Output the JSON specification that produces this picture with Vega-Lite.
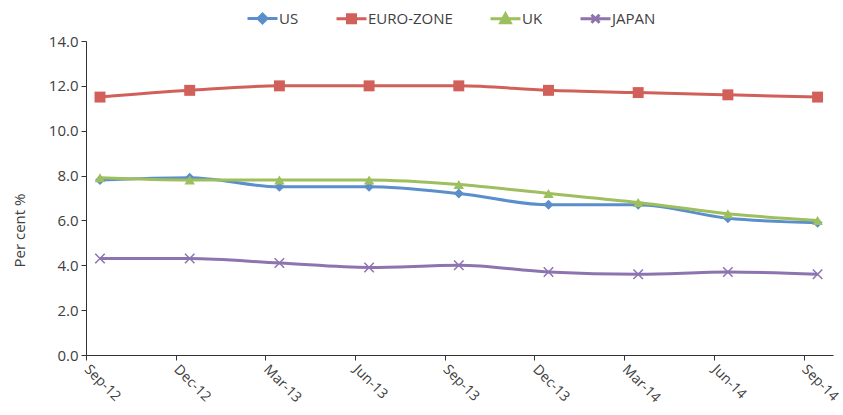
{
  "$schema": "https://vega.github.io/schema/vega-lite/v6.json",
  "width": 747,
  "height": 314,
  "autosize": "none",
  "padding": {"left": 86, "top": 41, "right": 10, "bottom": 60},
  "config": {
    "view": {"stroke": null},
    "font": "Open Sans"
  },
  "data": {
    "values": [
      {"period": "Sep-12", "series": "US", "value": 7.8},
      {"period": "Dec-12", "series": "US", "value": 7.9},
      {"period": "Mar-13", "series": "US", "value": 7.5},
      {"period": "Jun-13", "series": "US", "value": 7.5},
      {"period": "Sep-13", "series": "US", "value": 7.2},
      {"period": "Dec-13", "series": "US", "value": 6.7},
      {"period": "Mar-14", "series": "US", "value": 6.7},
      {"period": "Jun-14", "series": "US", "value": 6.1},
      {"period": "Sep-14", "series": "US", "value": 5.9},
      {"period": "Sep-12", "series": "EURO-ZONE", "value": 11.5},
      {"period": "Dec-12", "series": "EURO-ZONE", "value": 11.8},
      {"period": "Mar-13", "series": "EURO-ZONE", "value": 12.0},
      {"period": "Jun-13", "series": "EURO-ZONE", "value": 12.0},
      {"period": "Sep-13", "series": "EURO-ZONE", "value": 12.0},
      {"period": "Dec-13", "series": "EURO-ZONE", "value": 11.8},
      {"period": "Mar-14", "series": "EURO-ZONE", "value": 11.7},
      {"period": "Jun-14", "series": "EURO-ZONE", "value": 11.6},
      {"period": "Sep-14", "series": "EURO-ZONE", "value": 11.5},
      {"period": "Sep-12", "series": "UK", "value": 7.9},
      {"period": "Dec-12", "series": "UK", "value": 7.8},
      {"period": "Mar-13", "series": "UK", "value": 7.8},
      {"period": "Jun-13", "series": "UK", "value": 7.8},
      {"period": "Sep-13", "series": "UK", "value": 7.6},
      {"period": "Dec-13", "series": "UK", "value": 7.2},
      {"period": "Mar-14", "series": "UK", "value": 6.8},
      {"period": "Jun-14", "series": "UK", "value": 6.3},
      {"period": "Sep-14", "series": "UK", "value": 6.0},
      {"period": "Sep-12", "series": "JAPAN", "value": 4.3},
      {"period": "Dec-12", "series": "JAPAN", "value": 4.3},
      {"period": "Mar-13", "series": "JAPAN", "value": 4.1},
      {"period": "Jun-13", "series": "JAPAN", "value": 3.9},
      {"period": "Sep-13", "series": "JAPAN", "value": 4.0},
      {"period": "Dec-13", "series": "JAPAN", "value": 3.7},
      {"period": "Mar-14", "series": "JAPAN", "value": 3.6},
      {"period": "Jun-14", "series": "JAPAN", "value": 3.7},
      {"period": "Sep-14", "series": "JAPAN", "value": 3.6}
    ]
  },
  "encoding": {
    "x": {"field": "period", "type": "ordinal", "sort": ["Sep-12", "Dec-12", "Mar-13", "Jun-13", "Sep-13", "Dec-13", "Mar-14", "Jun-14", "Sep-14"],
      "scale": {"type": "point", "padding": 0.164, "align": 0},
      "axis": {"title": null, "labelAngle": 45, "labelAlign": "left", "labelBaseline": "middle", "labelPadding": 7, "tickSize": 5, "labelFont": "Open Sans", "labelFontSize": 14, "labelColor": "#404040", "tickColor": "#333333", "domainColor": "#333333"}},
    "y": {"field": "value", "type": "quantitative", "scale": {"domain": [0, 14]},
      "axis": {"title": "Per cent %", "grid": false, "values": [0, 2, 4, 6, 8, 10, 12, 14], "format": ".1f", "tickSize": 5, "labelPadding": 3, "labelFont": "Open Sans", "labelFontSize": 15, "labelColor": "#404040", "tickColor": "#333333", "domainColor": "#333333", "titleFont": "Open Sans", "titleFontSize": 15, "titleFontWeight": "normal", "titleColor": "#404040", "titleX": -67, "titleY": 189, "titleAngle": -90, "titleAlign": "center", "titleBaseline": "middle"}}
  },
  "layer": [
    {
      "transform": [{"filter": "datum.series == 'US'"}],
      "layer": [
        {"mark": {"type": "line", "interpolate": "monotone", "strokeWidth": 3, "color": "#5A8FCB", "xOffset": 14}},
        {"mark": {"type": "point", "shape": "diamond", "filled": true, "size": 100, "color": "#5A8FCB", "opacity": 1, "xOffset": 14}}
      ]
    },
    {
      "transform": [{"filter": "datum.series == 'EURO-ZONE'"}],
      "layer": [
        {"mark": {"type": "line", "interpolate": "monotone", "strokeWidth": 3, "color": "#D1605A", "xOffset": 14}},
        {"mark": {"type": "point", "shape": "square", "filled": true, "size": 120, "color": "#D1605A", "opacity": 1, "xOffset": 14}}
      ]
    },
    {
      "transform": [{"filter": "datum.series == 'UK'"}],
      "layer": [
        {"mark": {"type": "line", "interpolate": "monotone", "strokeWidth": 3, "color": "#9DBF5E", "xOffset": 14}},
        {"mark": {"type": "point", "shape": "triangle-up", "filled": true, "size": 110, "color": "#9DBF5E", "opacity": 1, "xOffset": 14}}
      ]
    },
    {
      "transform": [{"filter": "datum.series == 'JAPAN'"}],
      "layer": [
        {"mark": {"type": "line", "interpolate": "monotone", "strokeWidth": 3, "color": "#8D73AF", "xOffset": 14}},
        {"mark": {"type": "point", "shape": "M-1,-1L1,1M-1,1L1,-1", "filled": false, "size": 90, "color": "#8D73AF", "strokeWidth": 1.5, "opacity": 1, "xOffset": 14}}
      ]
    },
    {
      "transform": [{"filter": "false"}],
      "mark": {"type": "point", "filled": true, "strokeWidth": 3},
      "encoding": {
        "fill": {"field": "series", "type": "nominal", "scale": {"domain": ["US", "EURO-ZONE", "UK", "JAPAN"], "range": ["#5A8FCB", "#D1605A", "#9DBF5E", "#8D73AF"]},
          "legend": {"title": null, "orient": "none", "direction": "horizontal", "legendX": 169, "legendY": -30, "padding": 0, "symbolSize": 64, "symbolStrokeWidth": 3, "symbolOpacity": 1, "labelOffset": 9, "columnPadding": 31, "labelFont": "Open Sans", "labelFontSize": 15, "labelColor": "#404040"}},
        "stroke": {"field": "series", "type": "nominal", "scale": {"domain": ["US", "EURO-ZONE", "UK", "JAPAN"], "range": ["#5A8FCB", "#D1605A", "#9DBF5E", "#8D73AF"]},
          "legend": {"title": null, "orient": "none", "direction": "horizontal", "legendX": 169, "legendY": -30, "padding": 0, "symbolSize": 64, "symbolStrokeWidth": 3, "symbolOpacity": 1, "labelOffset": 9, "columnPadding": 31, "labelFont": "Open Sans", "labelFontSize": 15, "labelColor": "#404040"}},
        "shape": {"field": "series", "type": "nominal", "scale": {"domain": ["US", "EURO-ZONE", "UK", "JAPAN"], "range": ["M-3.75,0L3.75,0M0,-1.1L1.1,0L0,1.1L-1.1,0Z", "M-3.75,0L3.75,0M-1,-1L1,-1L1,1L-1,1Z", "M-3.75,0L3.75,0M0,-1.2L1.2,1L-1.2,1Z", "M-3.75,0L3.75,0M-1,-1L1,1M-1,1L1,-1"]},
          "legend": {"title": null, "orient": "none", "direction": "horizontal", "legendX": 169, "legendY": -30, "padding": 0, "symbolSize": 64, "symbolStrokeWidth": 3, "symbolOpacity": 1, "labelOffset": 9, "columnPadding": 31, "labelFont": "Open Sans", "labelFontSize": 15, "labelColor": "#404040"}}
      }
    }
  ]
}
